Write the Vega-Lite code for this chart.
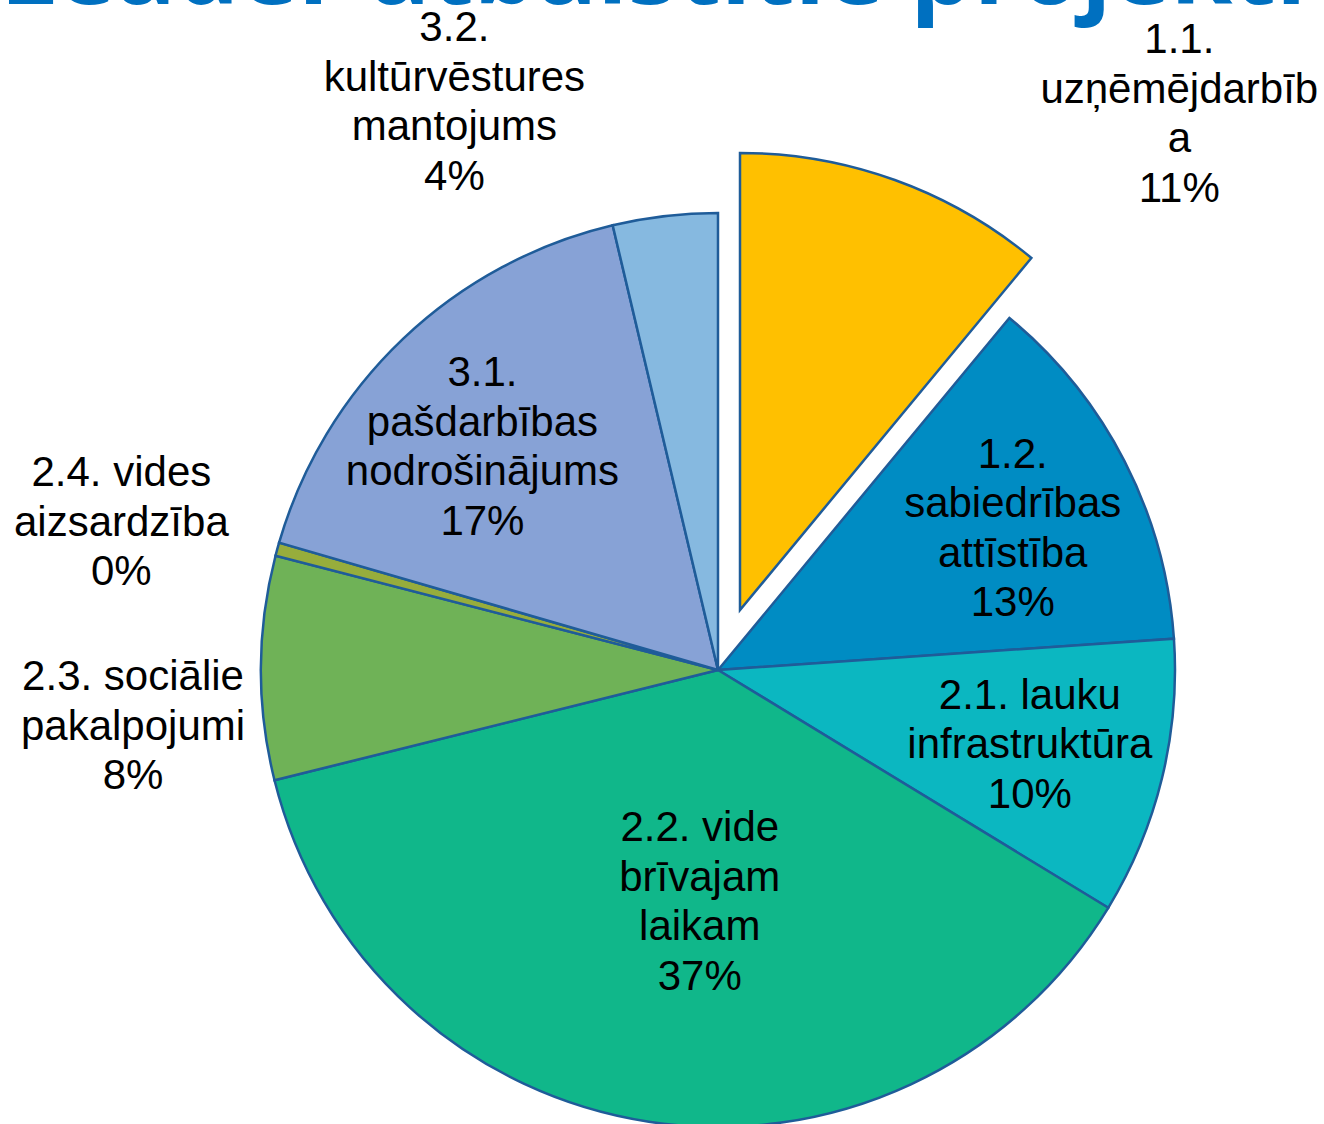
{
  "$schema": "https://vega.github.io/schema/vega-lite/v6.json",
  "width": 1436,
  "height": 908,
  "autosize": {"type": "none"},
  "padding": {"left": 0, "top": 216, "right": 0, "bottom": 0},
  "background": "white",
  "view": {"stroke": null},
  "title": {
    "text": "Leader atbalstītie projekti",
    "orient": "top",
    "anchor": "start",
    "frame": "group",
    "font": "Open Sans",
    "fontSize": 100,
    "fontWeight": "bold",
    "color": "#0070C0",
    "baseline": "alphabetic",
    "offset": -116
  },
  "data": {
    "values": [
      {"code": "1.1", "label": "1.1.\nuzņēmējdarbīb\na\n11%", "value": 11.0},
      {"code": "1.2", "label": "1.2.\nsabiedrības\nattīstība\n13%", "value": 12.9},
      {"code": "2.1", "label": "2.1. lauku\ninfrastruktūra\n10%", "value": 9.8},
      {"code": "2.2", "label": "2.2. vide\nbrīvajam\nlaikam\n37%", "value": 37.4},
      {"code": "2.3", "label": "2.3. sociālie\npakalpojumi\n8%", "value": 7.9},
      {"code": "2.4", "label": "2.4. vides\naizsardzība\n0%", "value": 0.47},
      {"code": "3.1", "label": "3.1.\npašdarbības\nnodrošinājums\n17%", "value": 16.8},
      {"code": "3.2", "label": "3.2.\nkultūrvēstures\nmantojums\n4%", "value": 3.7}
    ]
  },
  "encoding": {
    "theta": {"field": "value", "type": "quantitative", "stack": true},
    "order": {"field": "code", "sort": "ascending"}
  },
  "layer": [
    {
      "mark": {"type": "arc", "radius": 457, "stroke": "#1F5C99", "strokeWidth": 2.5},
      "encoding": {
        "color": {
          "field": "code", "type": "nominal", "legend": null,
          "scale": {
            "domain": ["1.1", "1.2", "2.1", "2.2", "2.3", "2.4", "3.1", "3.2"],
            "range": ["#FFC000", "#008CC3", "#0BB7C1", "#10B78A", "#6FB257", "#97AD3C", "#87A2D6", "#86B9E0"]
          }
        },
        "opacity": {"condition": {"test": "datum.code === '1.1'", "value": 0}, "value": 1}
      }
    },
    {
      "mark": {"type": "arc", "radius": 457, "stroke": "#1F5C99", "strokeWidth": 2.5, "xOffset": 22, "yOffset": -60},
      "encoding": {
        "color": {"field": "code", "type": "nominal", "legend": null},
        "opacity": {"condition": {"test": "datum.code === '1.1'", "value": 1}, "value": 0}
      }
    },
    {
      "mark": {"type": "text", "font": "Liberation Sans", "fontSize": 42, "lineBreak": "\n", "lineHeight": 49.5, "align": "center", "baseline": "middle", "color": "black", "radius": 600, "dx": 258, "dy": -65},
      "encoding": {"text": {"field": "label"}, "opacity": {"condition": {"test": "datum.code === '1.1'", "value": 1}, "value": 0}}
    },
    {
      "mark": {"type": "text", "font": "Liberation Sans", "fontSize": 42, "lineBreak": "\n", "lineHeight": 49.5, "align": "center", "baseline": "middle", "color": "black", "radius": 320, "dx": 10, "dy": -69},
      "encoding": {"text": {"field": "label"}, "opacity": {"condition": {"test": "datum.code === '1.2'", "value": 1}, "value": 0}}
    },
    {
      "mark": {"type": "text", "font": "Liberation Sans", "fontSize": 42, "lineBreak": "\n", "lineHeight": 49.5, "align": "center", "baseline": "middle", "color": "black", "radius": 320, "dx": 1, "dy": -50},
      "encoding": {"text": {"field": "label"}, "opacity": {"condition": {"test": "datum.code === '2.1'", "value": 1}, "value": 0}}
    },
    {
      "mark": {"type": "text", "font": "Liberation Sans", "fontSize": 42, "lineBreak": "\n", "lineHeight": 49.5, "align": "center", "baseline": "middle", "color": "black", "radius": 233, "dx": 17, "dy": -72},
      "encoding": {"text": {"field": "label"}, "opacity": {"condition": {"test": "datum.code === '2.2'", "value": 1}, "value": 0}}
    },
    {
      "mark": {"type": "text", "font": "Liberation Sans", "fontSize": 42, "lineBreak": "\n", "lineHeight": 49.5, "align": "center", "baseline": "middle", "color": "black", "radius": 585, "dx": 0, "dy": 10},
      "encoding": {"text": {"field": "label"}, "opacity": {"condition": {"test": "datum.code === '2.3'", "value": 1}, "value": 0}}
    },
    {
      "mark": {"type": "text", "font": "Liberation Sans", "fontSize": 42, "lineBreak": "\n", "lineHeight": 49.5, "align": "center", "baseline": "middle", "color": "black", "radius": 600, "dx": -18, "dy": -38},
      "encoding": {"text": {"field": "label"}, "opacity": {"condition": {"test": "datum.code === '2.4'", "value": 1}, "value": 0}}
    },
    {
      "mark": {"type": "text", "font": "Liberation Sans", "fontSize": 42, "lineBreak": "\n", "lineHeight": 49.5, "align": "center", "baseline": "middle", "color": "black", "radius": 320, "dx": -15, "dy": -65},
      "encoding": {"text": {"field": "label"}, "opacity": {"condition": {"test": "datum.code === '3.1'", "value": 1}, "value": 0}}
    },
    {
      "mark": {"type": "text", "font": "Liberation Sans", "fontSize": 42, "lineBreak": "\n", "lineHeight": 49.5, "align": "center", "baseline": "middle", "color": "black", "radius": 600, "dx": -194, "dy": -46},
      "encoding": {"text": {"field": "label"}, "opacity": {"condition": {"test": "datum.code === '3.2'", "value": 1}, "value": 0}}
    }
  ]
}
